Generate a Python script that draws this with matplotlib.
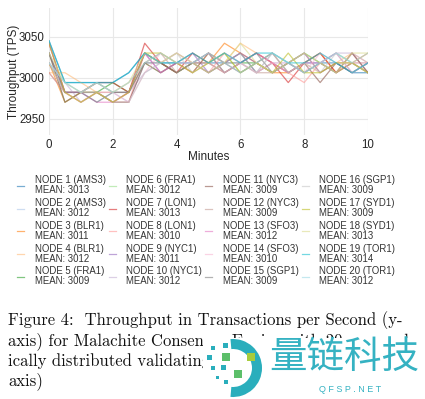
import matplotlib
matplotlib.use("Agg")
import matplotlib.pyplot as plt
from matplotlib.patches import Wedge, Rectangle

minutes = [0, 0.5, 1, 1.5, 2, 2.5, 3, 3.5, 4, 4.5, 5, 5.5, 6, 6.5, 7, 7.5, 8, 8.5, 9, 9.5, 10]

node_names = ["NODE 1 (AMS3)", "NODE 2 (AMS3)", "NODE 3 (BLR1)", "NODE 4 (BLR1)", "NODE 5 (FRA1)",
              "NODE 6 (FRA1)", "NODE 7 (LON1)", "NODE 8 (LON1)", "NODE 9 (NYC1)", "NODE 10 (NYC1)",
              "NODE 11 (NYC3)", "NODE 12 (NYC3)", "NODE 13 (SFO3)", "NODE 14 (SFO3)", "NODE 15 (SGP1)",
              "NODE 16 (SGP1)", "NODE 17 (SYD1)", "NODE 18 (SYD1)", "NODE 19 (TOR1)", "NODE 20 (TOR1)"]
node_means = [3013, 3012, 3011, 3012, 3009, 3012, 3013, 3010, 3011, 3012,
              3009, 3009, 3012, 3010, 3009, 3009, 3009, 3013, 3014, 3012]

n01 = [3045, 2994, 2994, 2994, 2994, 3006, 3030, 3018, 3018, 3018, 3018, 3018, 3030, 3006, 3018, 3006, 3018, 3018, 3018, 3006, 3006]
n02 = [3030, 2982, 2982, 2970, 2982, 2970, 3018, 3018, 3006, 3018, 3030, 3018, 3018, 3030, 3018, 3018, 3006, 3018, 3030, 3018, 3018]
n03 = [3018, 2970, 2982, 2982, 2970, 2982, 3030, 3018, 3006, 3018, 3018, 3042, 3030, 3018, 3006, 3006, 3018, 3030, 3006, 3018, 3030]
n04 = [3006, 3006, 2994, 2982, 2982, 2994, 3018, 3030, 3018, 3006, 3030, 3018, 3042, 3030, 3018, 3006, 3018, 3006, 3018, 3030, 3018]
n05 = [3018, 2982, 2982, 2982, 2994, 2982, 3030, 3018, 3006, 3018, 3030, 3006, 3018, 3018, 3006, 3018, 3030, 3018, 3006, 3018, 3006]
n06 = [3030, 2970, 2982, 2994, 2982, 2982, 3018, 3006, 3018, 3030, 3018, 3030, 3006, 3018, 3030, 3018, 3006, 3018, 3030, 3018, 3006]
n07 = [3042, 2982, 2982, 2994, 2994, 2982, 3042, 3018, 3006, 3030, 3018, 3006, 3018, 3030, 3018, 2994, 3018, 3030, 3006, 3030, 3006]
n08 = [3006, 2982, 2970, 2982, 2970, 2970, 3030, 3018, 3030, 3018, 3006, 3030, 3018, 3006, 3018, 3006, 2994, 3018, 3006, 3018, 3018]
n09 = [3030, 2982, 2982, 2994, 2982, 2982, 3030, 3006, 3018, 3030, 3006, 3018, 3030, 3018, 3006, 3018, 3030, 3006, 3018, 3006, 3018]
n10 = [3018, 2994, 2970, 2982, 2970, 2982, 3006, 3018, 3030, 3018, 3018, 3030, 3018, 3006, 3030, 3018, 3006, 3018, 3030, 3030, 3018]
n11 = [3030, 2970, 2982, 2982, 2970, 2970, 3018, 3006, 3018, 3006, 3030, 3018, 3006, 3018, 3030, 3006, 3018, 2994, 3018, 3006, 3018]
n12 = [3006, 2982, 2970, 2982, 2982, 2982, 3018, 3030, 3006, 3018, 3006, 3018, 3030, 3006, 3006, 3018, 3030, 3006, 3018, 3018, 3006]
n13 = [3042, 2982, 2982, 2970, 2970, 2982, 3030, 3006, 3018, 3018, 3030, 3006, 3018, 3030, 3018, 3006, 3018, 3018, 3030, 3006, 3018]
n14 = [3018, 2982, 2970, 2982, 2982, 2970, 3006, 3030, 3018, 3006, 3018, 3030, 3018, 3006, 3018, 3018, 3006, 3030, 3018, 3018, 3006]
n15 = [3030, 2982, 2982, 2970, 2982, 2982, 3018, 3018, 3006, 3018, 3006, 3018, 3018, 3030, 3006, 3018, 3006, 3018, 3006, 3030, 3006]
n16 = [3018, 2994, 2982, 2982, 2970, 2970, 3006, 3018, 3030, 3006, 3018, 3006, 3018, 3006, 3030, 3006, 3018, 3006, 3030, 3006, 3018]
n17 = [3042, 2982, 2970, 2982, 2970, 2982, 3030, 3030, 3018, 3006, 3018, 3030, 3006, 3018, 3006, 3030, 3006, 3006, 3018, 3018, 3006]
n18 = [3030, 2994, 2982, 2994, 2982, 2994, 3030, 3018, 3030, 3018, 3006, 3018, 3042, 3018, 3006, 3018, 3030, 3018, 3006, 3030, 3030]
n19 = [3045, 2994, 2994, 2994, 2994, 3006, 3030, 3018, 3018, 3030, 3018, 3030, 3018, 3030, 3030, 3018, 3018, 3030, 3018, 3006, 3018]
n20 = [3018, 2994, 2982, 2994, 2982, 2994, 3018, 3030, 3018, 3018, 3030, 3018, 3006, 3018, 3030, 3018, 3006, 3018, 3030, 3018, 3030]
series = [n01, n02, n03, n04, n05, n06, n07, n08, n09, n10,
          n11, n12, n13, n14, n15, n16, n17, n18, n19, n20]

x_ticks = [0, 2, 4, 6, 8, 10]
y_ticks = [2950, 3000, 3050]

caption_lines = ["Figure 4:  Throughput in Transactions per Second (y-",
                 "axis) for Malachite Consensus Engine with 20 geograph-",
                 "ically distributed validating nodes over time (x-",
                 "axis)"]

W, H = 425, 399
plt.rcParams["font.family"] = ["Liberation Sans", "DejaVu Sans"]
fig = plt.figure(figsize=(W / 100, H / 100), dpi=100)
fig.patch.set_facecolor("white")

ax = fig.add_axes([49 / W, 1 - 135 / H, (368 - 49) / W, (135 - 8) / H])
cmap = plt.get_cmap("tab20")
handles = []
for i, vals in enumerate(series):
    ln, = ax.plot(minutes, vals, color=cmap(i), alpha=0.6, lw=0.9)
    handles.append(ln)
ax.set_xlim(0, 10)
ax.set_ylim(2930, 3085)
ax.set_xticks(x_ticks)
ax.set_yticks(y_ticks)
ax.grid(color="#e8e8e8", lw=0.8)
ax.set_axisbelow(True)
for s in ax.spines.values():
    s.set_visible(False)
ax.tick_params(length=0, labelsize=8.3, pad=3, colors="#262626")
ax.set_xlabel("Minutes", fontsize=8.5, labelpad=0, color="#262626")
ax.set_ylabel("Throughput (TPS)", fontsize=8.5, color="#262626", va="center")
ax.yaxis.set_label_coords((14 - 49) / (368 - 49), 0.5)

labels = [f"{n}\nMEAN: {m}" for n, m in zip(node_names, node_means)]
leg = fig.legend(handles, labels, loc="upper left", bbox_to_anchor=(17 / W, 1 - 175 / H),
                 ncol=4, frameon=False, fontsize=6.9, handlelength=0.75, handletextpad=1.1,
                 columnspacing=0.3, labelspacing=0.3, borderaxespad=0, borderpad=0)
for t in leg.get_texts():
    t.set_linespacing(1.0)
    t.set_color("#333333")

ys = [320, 341, 361, 381]
for line, y in zip(caption_lines, ys):
    fig.text(8 / W, 1 - y / H, line, fontfamily="cmr10", fontsize=12.0, va="center", ha="left",
             color="#111111")

# watermark overlay
fig.patches.append(Rectangle((203 / W, 0), 1, (H - 338) / H, transform=fig.transFigure,
                             facecolor="white", edgecolor="none", zorder=5))
lax = fig.add_axes([200 / W, 0, 70 / W, 65 / H], zorder=6)
lax.set_xlim(200, 270)
lax.set_ylim(399, 334)
lax.set_aspect("equal")
lax.axis("off")
lax.add_patch(Wedge((233, 368), 29, -95, 95, width=10, facecolor="#2aaebc", edgecolor="none"))
squares = [(211, 346, 4, "#2aaebc"), (223, 343, 5, "#2aaebc"), (207, 355, 5, "#2aaebc"),
           (222, 353, 8, "#5cbf6a"), (247, 353, 8, "#a8cc3c"), (211, 366, 4, "#2aaebc"),
           (221, 365, 5, "#2aaebc"), (234, 370, 8, "#5cbf6a"), (224, 380, 4, "#2aaebc"),
           (216, 376, 3, "#2aaebc")]
for sx, sy, sz, c in squares:
    lax.add_patch(Rectangle((sx, sy), sz, sz, facecolor=c, edgecolor="none"))
fig.text(344 / W, 1 - 357 / H, "量链科技", fontfamily="Noto Sans CJK SC", fontsize=27,
         color="#35b2c2", ha="center", va="center", zorder=7)
fig.text(350 / W, 1 - 389 / H, "Q F S P . N E T", fontsize=6.5, color="#35b2c2",
         ha="center", va="center", zorder=7)

fig.savefig("out.png", dpi=100, facecolor="white")
